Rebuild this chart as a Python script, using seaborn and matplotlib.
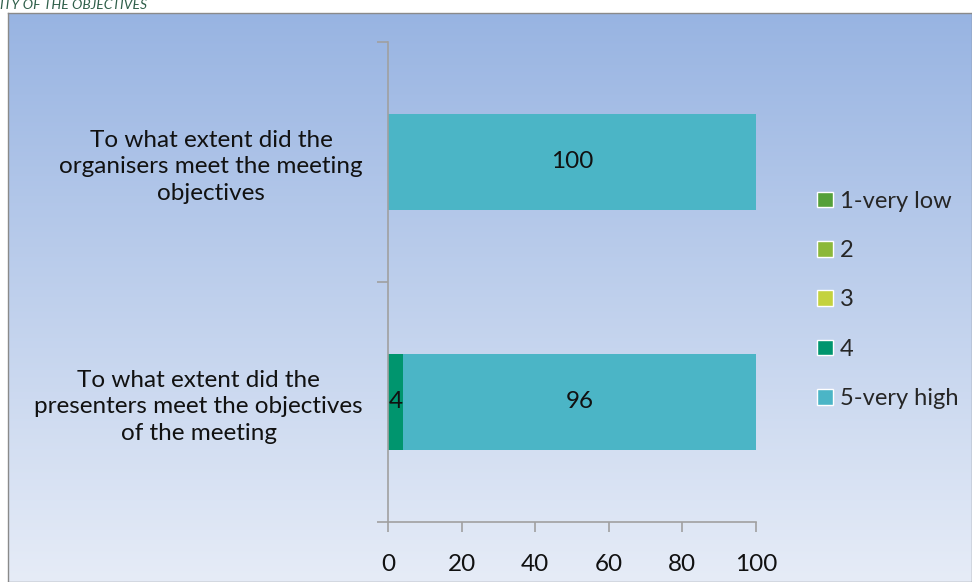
import numpy as np
import pandas as pd
import matplotlib
matplotlib.use("Agg")
import matplotlib.pyplot as plt
from matplotlib.colors import LinearSegmentedColormap
from matplotlib.patches import Patch
import seaborn as sns

questions = ["To what extent did the\norganisers meet the meeting\nobjectives",
             "To what extent did the\npresenters meet the objectives\nof the meeting"]
levels = ["1-very low", "2", "3", "4", "5-very high"]
very_low = [0, 0]
two = [0, 0]
three = [0, 0]
four = [0, 4]
very_high = [100, 96]
colors = ["#55a03a", "#8cb83a", "#c4d23e", "#00956e", "#4bb5c6"]

sns.set_theme(style="white")
plt.rcParams['font.family'] = ['Lato', 'DejaVu Sans']

df = pd.DataFrame({"question": questions, levels[0]: very_low, levels[1]: two,
                   levels[2]: three, levels[3]: four, levels[4]: very_high})
cum = df[levels].cumsum(axis=1)

fig = plt.figure(figsize=(9.72, 5.82), dpi=100)

# gradient panel behind the chart
bg = fig.add_axes([8/972, 0, 1 - 8/972, 1 - 13/582])
grad = LinearSegmentedColormap.from_list("g", ["#98b4e2", "#e6ecf7"])
bg.imshow(np.linspace(0, 1, 256).reshape(-1, 1), aspect="auto", cmap=grad,
          extent=[0, 1, 0, 1])
bg.set_xticks([]); bg.set_yticks([])
for s in bg.spines.values():
    s.set_color("#8a8a8a"); s.set_linewidth(1)

fig.text(0.0, 1 - 5/582, "ITY OF THE OBJECTIVES", fontsize=10, style="italic",
         color="#2f5f4a", va="center", ha="left")

ax = fig.add_axes([388/972, 1 - 522/582, (756-388)/972, (522-42)/582])
ax.set_facecolor("none")

# stacked bars: draw cumulative totals from the largest down
for lvl, col in zip(levels[::-1], colors[::-1]):
    sns.barplot(x=cum[lvl], y=df["question"], orient="h", color=col,
                width=0.4, saturation=1, ax=ax, linewidth=0)

for i in range(len(df)):
    for lvl in levels:
        v = df.loc[i, lvl]
        if v > 0:
            ax.text(cum.loc[i, lvl] - v / 2, i, f"{v}", ha="center", va="center",
                    fontsize=17.5, color="#111111")

ax.set_xlim(0, 100)
ax.set_ylim(1.5, -0.5)
ax.set_xticks(range(0, 101, 20))
ax.set_yticks([0, 1])
ax.set_yticklabels(questions, multialignment="center", linespacing=1.35)
ax.set_yticks([-0.5, 0.5, 1.5], minor=True)
ax.tick_params(axis="y", which="major", length=0, pad=18, labelsize=17.5, labelcolor="#111111")
ax.tick_params(axis="y", which="minor", length=8, width=1.2, color="#a0a0a0", left=True)
ax.tick_params(axis="x", length=7, width=1.2, color="#a0a0a0", bottom=True,
               labelsize=17.5, labelcolor="#111111", pad=16)
ax.set_xlabel(""); ax.set_ylabel("")
for side in ["top", "right"]:
    ax.spines[side].set_visible(False)
for side in ["left", "bottom"]:
    ax.spines[side].set_color("#a0a0a0"); ax.spines[side].set_linewidth(1.2)

handles = [Patch(facecolor=c, label=l) for c, l in zip(colors, levels)]
fig.legend(handles=handles, loc="center left", bbox_to_anchor=(808/972, 1 - 300/582),
           frameon=False, fontsize=17, handlelength=0.65, handleheight=0.65,
           handletextpad=0.3, labelspacing=1.2, borderaxespad=0)

fig.savefig("out.png", dpi=100)
